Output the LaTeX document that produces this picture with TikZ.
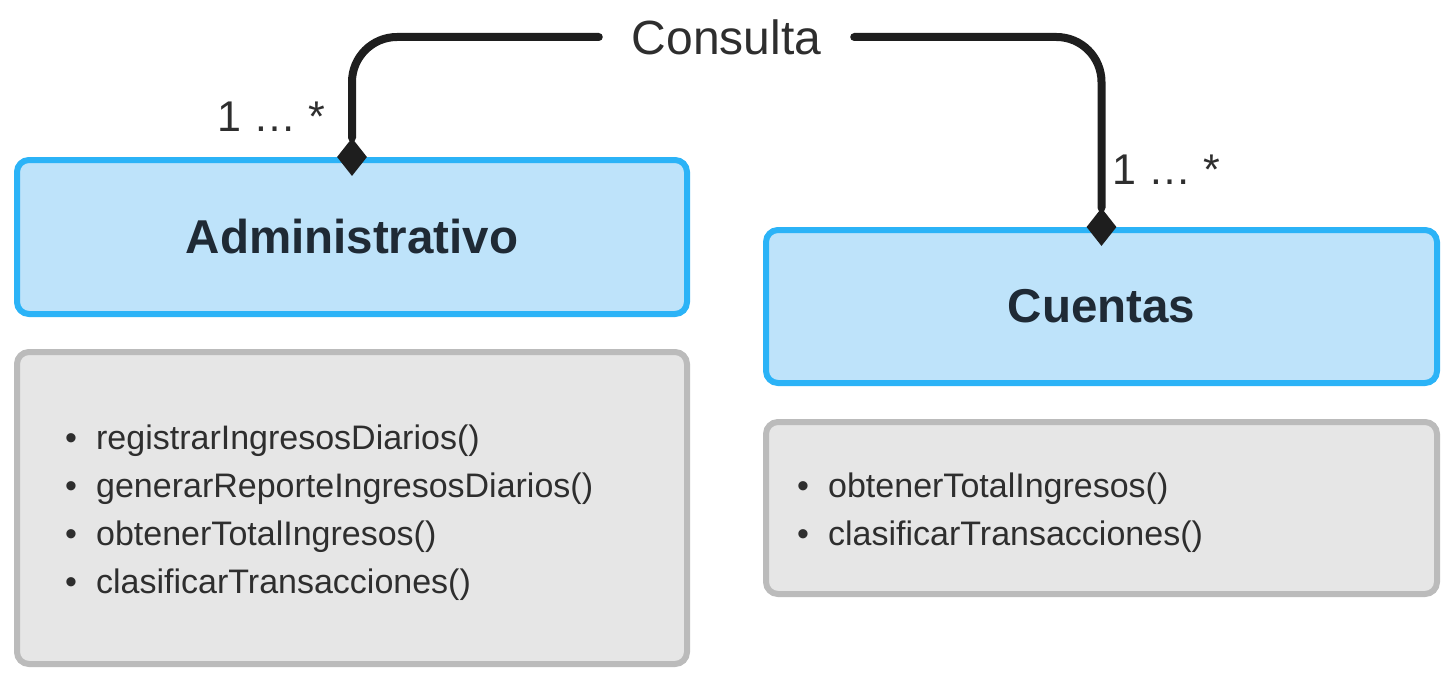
\documentclass[tikz,border=0pt]{standalone}
\usepackage{fontspec}
\setmainfont{Liberation Sans}
\usetikzlibrary{shapes.geometric}

\definecolor{hdrfill}{HTML}{BEE3FA}
\definecolor{hdrline}{HTML}{2BB3F7}
\definecolor{opsfill}{HTML}{E6E6E6}
\definecolor{opsline}{HTML}{BBBBBB}
\definecolor{ink}{HTML}{1F2A35}
\definecolor{txt}{HTML}{2E2E2E}
\definecolor{wire}{HTML}{1E1E1E}

\newcommand{\opitem}[1]{\makebox[31pt][l]{\textbullet}#1}

\begin{document}
\begin{tikzpicture}[x=1pt,y=-1pt,
    classbox/.style={draw=hdrline,fill=hdrfill,line width=6pt,rounded corners=12pt,minimum width=670pt,inner sep=0pt,text=ink,font=\fontsize{47.5}{50}\selectfont\bfseries},
    opsbox/.style={draw=opsline,fill=opsfill,line width=6pt,rounded corners=12pt,minimum width=670pt,inner sep=0pt},
    opslist/.style={inner sep=0pt,align=left,anchor=west,text=txt,font=\fontsize{34}{48}\selectfont},
    comp/.style={shape=diamond,fill=wire,inner sep=0pt,minimum width=30pt,minimum height=38pt},
    mult/.style={text=txt,inner sep=0pt,font=\fontsize{43}{46}\selectfont},
    assoc/.style={draw=wire,line width=8pt,line cap=round,rounded corners=45pt}]

    \useasboundingbox (0,0) rectangle (1455,690);

    \node[classbox,minimum height=154pt] (adm) at (352,237) {Administrativo};
    \node[opsbox,minimum height=312pt] (admops) at (352,508) {};
    \node[opslist] (admlist) at (65,513) {\opitem{registrarIngresosDiarios()}\\
        \opitem{generarReporteIngresosDiarios()}\\
        \opitem{obtenerTotalIngresos()}\\
        \opitem{clasificarTransacciones()}};

    \node[classbox,minimum width=671pt,minimum height=153pt] (cue) at (1101.5,306.5) {Cuentas};
    \node[opsbox,minimum width=671pt,minimum height=172pt] (cueops) at (1101.5,508) {};
    \node[opslist] (cuelist) at (797,513) {\opitem{obtenerTotalIngresos()}\\
        \opitem{clasificarTransacciones()}};

    \node[comp] (dadm) at (adm.north) {};
    \node[comp] (dcue) at (cue.north) {};

    \node[text=txt,inner sep=0pt,minimum width=255pt,minimum height=50pt,font=\fontsize{48}{50}\selectfont] (consulta) at (726.5,37) {Consulta};

    \node[mult] (madm) at (271.5,117) {1 … *};
    \node[mult] (mcue) at (1166,170) {1 … *};

    \draw[assoc] (dadm.north) |- (consulta.west);
    \draw[assoc] (consulta.east) -| (dcue.north);

\end{tikzpicture}
\end{document}
